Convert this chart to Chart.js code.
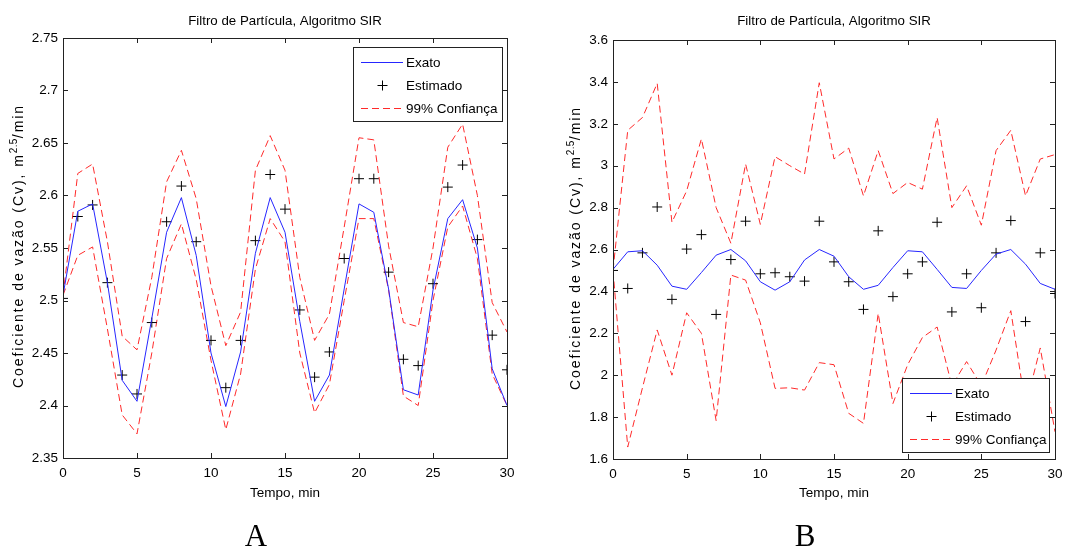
<!DOCTYPE html>
<html lang="pt">
<head>
<meta charset="utf-8">
<title>Filtro de Partícula, Algoritmo SIR</title>
<script src="https://cdn.jsdelivr.net/npm/chart.js@4.4.1/dist/chart.umd.min.js"></script>
<style>
  html, body { margin: 0; padding: 0; background: #fff; }
  #wrap { width: 1084px; height: 548px; display: flex; }
  canvas { display: block; }
</style>
</head>
<body>
<div id="wrap">
  <canvas id="painelA" width="540" height="548"></canvas>
  <canvas id="painelB" width="544" height="548"></canvas>
</div>
<script>
// tempo de amostragem (min)
const tempo = [0, 1, 2, 3, 4, 5, 6, 7, 8, 9, 10, 11, 12, 13, 14, 15, 16, 17, 18, 19, 20, 21, 22, 23, 24, 25, 26, 27, 28, 29, 30];

// caso A
const exatoA = [2.505, 2.585, 2.592, 2.517, 2.424, 2.404, 2.483, 2.565, 2.598, 2.543, 2.450, 2.399, 2.451, 2.545, 2.598, 2.565, 2.480, 2.404, 2.429, 2.511, 2.592, 2.584, 2.511, 2.415, 2.410, 2.510, 2.578, 2.596, 2.550, 2.435, 2.400];
const estimadoA = [2.502, 2.580, 2.591, 2.517, 2.429, 2.411, 2.479, 2.575, 2.609, 2.556, 2.462, 2.417, 2.462, 2.557, 2.620, 2.587, 2.491, 2.427, 2.451, 2.540, 2.616, 2.616, 2.527, 2.444, 2.438, 2.516, 2.608, 2.629, 2.558, 2.467, 2.434];
const supA = [2.505, 2.621, 2.630, 2.556, 2.466, 2.453, 2.522, 2.613, 2.643, 2.597, 2.514, 2.457, 2.489, 2.624, 2.657, 2.624, 2.522, 2.462, 2.487, 2.570, 2.655, 2.653, 2.552, 2.479, 2.475, 2.550, 2.646, 2.668, 2.600, 2.498, 2.470];
const infA = [2.505, 2.543, 2.551, 2.473, 2.391, 2.373, 2.450, 2.540, 2.573, 2.520, 2.443, 2.377, 2.430, 2.530, 2.578, 2.556, 2.450, 2.393, 2.420, 2.500, 2.578, 2.578, 2.510, 2.409, 2.400, 2.500, 2.570, 2.590, 2.540, 2.430, 2.400];

// caso B
const exatoB = [2.505, 2.589, 2.594, 2.525, 2.425, 2.410, 2.490, 2.573, 2.600, 2.546, 2.446, 2.406, 2.446, 2.550, 2.600, 2.568, 2.470, 2.410, 2.429, 2.514, 2.594, 2.589, 2.505, 2.419, 2.414, 2.500, 2.578, 2.600, 2.530, 2.438, 2.410];
const estimadoB = [2.500, 2.414, 2.584, 2.803, 2.362, 2.602, 2.671, 2.290, 2.552, 2.735, 2.484, 2.489, 2.470, 2.449, 2.735, 2.541, 2.446, 2.314, 2.689, 2.375, 2.484, 2.541, 2.730, 2.302, 2.484, 2.322, 2.584, 2.738, 2.256, 2.584, 2.390];
const supB = [2.500, 3.169, 3.230, 3.393, 2.730, 2.880, 3.128, 2.800, 2.630, 3.008, 2.720, 3.043, 3.000, 2.960, 3.396, 3.032, 3.084, 2.856, 3.072, 2.867, 2.920, 2.888, 3.230, 2.800, 2.904, 2.716, 3.072, 3.169, 2.856, 3.032, 3.053];
const infB = [2.500, 1.657, 1.940, 2.216, 2.000, 2.298, 2.200, 1.783, 2.478, 2.454, 2.250, 1.937, 1.940, 1.929, 2.060, 2.050, 1.818, 1.770, 2.295, 1.865, 2.050, 2.180, 2.230, 1.950, 2.065, 1.950, 2.120, 2.308, 1.850, 2.130, 1.730];

const rotulos = ['Exato', 'Estimado', '99% Confiança'];

const FONTE = "'Liberation Sans', Arial, Helvetica, sans-serif";
const AZUL = '#2626ff';
const VERMELHO = '#ff2a2a';
const TRACO = [7, 4];

function pontos(ys) {
  return tempo.map((t, i) => ({ x: t, y: ys[i] }));
}

function fmt(v) {
  return String(+v.toFixed(2));
}

// rótulo vertical com expoente (m^2.5/min), espaçado até o comprimento pedido
function tituloY(ctx, cx, cy, comprimento) {
  const partes = [
    { s: 'Coeficiente de vazão (Cv), m', f: 14, dy: 0, k: 1 },
    { s: '2.5', f: 10, dy: -5, k: 0.2 },
    { s: '/min', f: 14, dy: 0, k: 1 }
  ];
  let w = 0, pesos = 0;
  partes.forEach(p => {
    ctx.font = p.f + 'px ' + FONTE;
    for (const c of p.s) { w += ctx.measureText(c).width; pesos += p.k; }
  });
  const esp = Math.max(0, (comprimento - w) / pesos);
  ctx.save();
  ctx.translate(cx, cy);
  ctx.rotate(-Math.PI / 2);
  ctx.fillStyle = '#000';
  ctx.textAlign = 'left';
  ctx.textBaseline = 'middle';
  let xx = -comprimento / 2;
  partes.forEach(p => {
    ctx.font = p.f + 'px ' + FONTE;
    for (const c of p.s) {
      ctx.fillText(c, xx, p.dy);
      xx += ctx.measureText(c).width + esp * p.k;
    }
  });
  ctx.restore();
}

// caixa dos eixos, marcas internas, legenda e textos
const moldura = {
  id: 'moldura',
  afterDatasetsDraw(chart, args, o) {
    const { ctx, chartArea: a, scales: { x, y } } = chart;
    ctx.save();
    ctx.strokeStyle = '#222';
    ctx.lineWidth = 1;
    ctx.beginPath();
    x.ticks.forEach(t => {
      const px = Math.round(x.getPixelForValue(t.value)) + 0.5;
      ctx.moveTo(px, a.bottom); ctx.lineTo(px, a.bottom - 5);
      ctx.moveTo(px, a.top); ctx.lineTo(px, a.top + 5);
    });
    y.ticks.forEach(t => {
      const py = Math.round(y.getPixelForValue(t.value)) + 0.5;
      ctx.moveTo(a.left, py); ctx.lineTo(a.left + 5, py);
      ctx.moveTo(a.right, py); ctx.lineTo(a.right - 5, py);
    });
    ctx.stroke();
    ctx.strokeRect(Math.round(a.left) + 0.5, Math.round(a.top) + 0.5,
      Math.round(a.right - a.left), Math.round(a.bottom - a.top));

    // legenda
    const L = o.legenda;
    ctx.fillStyle = '#fff';
    ctx.fillRect(L.x, L.y, L.w, L.h);
    ctx.strokeStyle = '#222';
    ctx.strokeRect(L.x + 0.5, L.y + 0.5, L.w, L.h);
    const linhas = [15, 38, 61];
    const x0 = L.x + 8, x1 = L.x + 50;
    ctx.lineWidth = 1;
    ctx.strokeStyle = AZUL;
    ctx.beginPath(); ctx.moveTo(x0, L.y + linhas[0] + 0.5); ctx.lineTo(x1, L.y + linhas[0] + 0.5); ctx.stroke();
    ctx.strokeStyle = '#000';
    const cx = Math.round((x0 + x1) / 2) + 0.5, cy = L.y + linhas[1] + 0.5;
    ctx.beginPath(); ctx.moveTo(cx - 5, cy); ctx.lineTo(cx + 5, cy); ctx.moveTo(cx, cy - 5); ctx.lineTo(cx, cy + 5); ctx.stroke();
    ctx.strokeStyle = VERMELHO;
    ctx.setLineDash(TRACO);
    ctx.beginPath(); ctx.moveTo(x0, L.y + linhas[2] + 0.5); ctx.lineTo(x1, L.y + linhas[2] + 0.5); ctx.stroke();
    ctx.setLineDash([]);
    ctx.fillStyle = '#000';
    ctx.font = '13.5px ' + FONTE;
    ctx.textAlign = 'left';
    ctx.textBaseline = 'middle';
    rotulos.forEach((r, i) => ctx.fillText(r, L.x + 53, L.y + linhas[i] + 1));
    ctx.restore();
  },
  afterDraw(chart, args, o) {
    const { ctx, chartArea: a } = chart;
    const meio = (a.left + a.right) / 2;
    ctx.save();
    ctx.fillStyle = '#000';
    ctx.textAlign = 'center';
    ctx.textBaseline = 'middle';
    ctx.font = '13.3px ' + FONTE;
    ctx.fillText('Filtro de Partícula, Algoritmo SIR', meio, 21);
    ctx.font = '13.5px ' + FONTE;
    ctx.fillText('Tempo, min', meio, 493);
    tituloY(ctx, o.rotuloY.x, o.rotuloY.y, 284);
    ctx.font = '31px "Liberation Serif", "Times New Roman", serif';
    ctx.textBaseline = 'alphabetic';
    ctx.fillText(o.letra.t, o.letra.x, 546);
    ctx.restore();
  }
};

function painel(id, d) {
  return new Chart(document.getElementById(id), {
    type: 'line',
    data: {
      datasets: [
        { label: rotulos[0], data: pontos(d.exato), borderColor: AZUL, borderWidth: 1, pointRadius: 0, clip: 0 },
        { label: rotulos[1], data: pontos(d.estimado), showLine: false, pointStyle: 'cross', pointRadius: 5,
          pointBorderColor: '#000', pointBorderWidth: 1, clip: 0 },
        { label: rotulos[2], data: pontos(d.sup), borderColor: VERMELHO, borderWidth: 1, borderDash: TRACO, pointRadius: 0, clip: 0 },
        { label: rotulos[2], data: pontos(d.inf), borderColor: VERMELHO, borderWidth: 1, borderDash: TRACO, pointRadius: 0, clip: 0 }
      ]
    },
    options: {
      responsive: false,
      animation: false,
      devicePixelRatio: 1,
      layout: { padding: { top: d.topo, right: d.direita, left: 0, bottom: 0 } },
      elements: { line: { tension: 0 } },
      plugins: {
        legend: { display: false },
        tooltip: { enabled: false },
        moldura: { legenda: d.legenda, rotuloY: d.rotuloY, letra: d.letra }
      },
      scales: {
        x: {
          type: 'linear', min: 0, max: 30,
          afterFit: s => { s.height = d.altX; },
          grid: { display: false, drawTicks: false },
          border: { display: false },
          ticks: { stepSize: 5, padding: 7, color: '#000', font: { family: FONTE, size: 13.5 } }
        },
        y: {
          type: 'linear', min: d.min, max: d.max,
          afterFit: s => { s.width = d.largY; },
          grid: { display: false, drawTicks: false },
          border: { display: false },
          ticks: { stepSize: d.passo, padding: 5, color: '#000', callback: fmt, font: { family: FONTE, size: 13.5 } }
        }
      }
    },
    plugins: [moldura]
  });
}

painel('painelA', {
  exato: exatoA, estimado: estimadoA, sup: supA, inf: infA,
  min: 2.35, max: 2.75, passo: 0.05,
  topo: 38, direita: 33, altX: 90, largY: 63,
  legenda: { x: 353, y: 47, w: 149, h: 74 },
  rotuloY: { x: 19, y: 246 },
  letra: { t: 'A', x: 256 }
});

painel('painelB', {
  exato: exatoB, estimado: estimadoB, sup: supB, inf: infB,
  min: 1.6, max: 3.6, passo: 0.2,
  topo: 40, direita: 29, altX: 89, largY: 73,
  legenda: { x: 362, y: 378, w: 147, h: 74 },
  rotuloY: { x: 36, y: 248 },
  letra: { t: 'B', x: 265 }
});
</script>
</body>
</html>
